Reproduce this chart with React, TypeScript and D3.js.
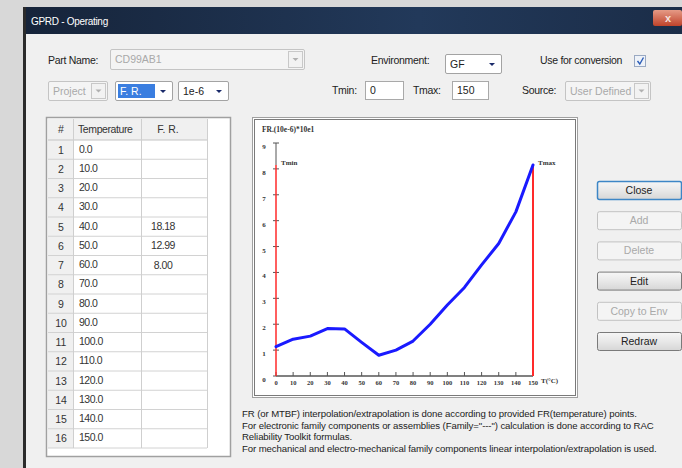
import React from "react";
import * as d3 from "d3";

// temperature grid (°C) and F.R. curve (units of 10e-6 * 10e1)
const temps = [0, 10, 20, 30, 40, 50, 60, 70, 80, 90, 100, 110, 120, 130, 140, 150];
const frCurve = [1.13, 1.42, 1.54, 1.83, 1.818, 1.299, 0.8, 1.0, 1.35, 2.0, 2.74, 3.42, 4.29, 5.12, 6.34, 8.15];
const tableFR = ["", "", "", "", "18.18", "12.99", "8.00", "", "", "", "", "", "", "", "", ""];
const yTicks = [0, 1, 2, 3, 4, 5, 6, 7, 8, 9];
const tMin = 0;
const tMax = 150;

const buttonLabels = ["Close", "Add", "Delete", "Edit", "Copy to Env", "Redraw"];
const buttonEnabled = [true, false, false, true, false, true];

const noteLines = [
  "FR (or MTBF) interpolation/extrapolation is done according to provided FR(temperature) points.",
  'For electronic family components or assemblies (Family="---")  calculation is done according to RAC',
  "Reliability Toolkit formulas.",
  "For mechanical and electro-mechanical family components linear interpolation/extrapolation is used.",
];

const UI = "'Liberation Sans', Arial, sans-serif";
const SERIF = "'Liberation Serif', 'DejaVu Serif', serif";

const Arrow: React.FC<{ x: number; y: number; color?: string }> = ({ x, y, color = "#1a2a6a" }) => (
  <path d={`M${x - 3},${y - 1.5} L${x + 3},${y - 1.5} L${x},${y + 1.5} Z`} fill={color} />
);

interface ComboProps {
  x: number;
  y: number;
  w: number;
  h: number;
  text: string;
  disabled?: boolean;
  boxed?: boolean;
  highlight?: number;
}

const Combo: React.FC<ComboProps> = ({ x, y, w, h, text, disabled, boxed, highlight }) => (
  <g>
    <rect x={x + 0.5} y={y + 0.5} width={w} height={h} fill={disabled ? "#f4f4f4" : "#fff"} stroke={disabled ? "#c4c4c4" : "#a3a3a3"} rx={1.5} />
    {highlight ? <rect x={x + 3} y={y + 3} width={highlight} height={h - 5} fill="#3a7ee0" /> : null}
    <text x={x + 5} y={y + h / 2 + 4} fontFamily={UI} fontSize={10.5} fill={highlight ? "#fff" : disabled ? "#a9a9a9" : "#222"}>
      {text}
    </text>
    {boxed ? (
      <g>
        <rect x={x + w - 15.5} y={y + 2.5} width={14} height={h - 4} fill="#f2f2f2" stroke="#c8c8c8" />
        <Arrow x={x + w - 8.5} y={y + h / 2 + 0.5} color="#b0b0b0" />
      </g>
    ) : (
      <Arrow x={x + w - 9} y={y + h / 2 + 1} />
    )}
  </g>
);

const TextBox: React.FC<{ x: number; y: number; w: number; h: number; text: string }> = ({ x, y, w, h, text }) => (
  <g>
    <rect x={x + 0.5} y={y + 0.5} width={w} height={h} fill="#fff" stroke="#a9a9a9" />
    <text x={x + 5} y={y + h / 2 + 4} fontFamily={UI} fontSize={10.5} fill="#222">
      {text}
    </text>
  </g>
);

const Label: React.FC<{ x: number; y: number; text: string }> = ({ x, y, text }) => (
  <text x={x} y={y} fontFamily={UI} fontSize={10.5} fill="#222" letterSpacing={-0.3}>
    {text}
  </text>
);

const Chart: React.FC = () => {
  const x = d3.scaleLinear().domain([0, 150]).range([276, 533]);
  const y = d3.scaleLinear().domain([0, 9]).range([376, 143]);
  const maxVal = d3.max(frCurve) ?? 0;
  const line = d3
    .line<number>()
    .x((_, i) => x(temps[i]))
    .y((d) => y(d))
    .curve(d3.curveLinear);

  return (
    <g>
      {/* frame */}
      <rect x={252.5} y={117.5} width={325} height={280} fill="#fff" stroke="#a0a0a0" />
      <rect x={254.5} y={119.5} width={321} height={276} fill="none" stroke="#7a7a7a" />

      <text x={262} y={132} fontFamily={SERIF} fontSize={7.5} fontWeight="bold" fill="#333">
        FR.(10e-6)*10e1
      </text>

      {/* y axis */}
      <line x1={x(tMin)} x2={x(tMin)} y1={y(9)} y2={y(maxVal)} stroke="#555" strokeWidth={1} />
      {yTicks.map((t) => (
        <g key={t}>
          <line x1={x(tMin) - 3} x2={x(tMin) + 3} y1={y(t)} y2={y(t)} stroke="#555" />
          <text x={264} y={y(t) + 6} textAnchor="middle" fontFamily={SERIF} fontSize={7} fontWeight="bold" fill="#333">
            {t}
          </text>
        </g>
      ))}

      {/* x axis */}
      <line x1={x(0)} x2={x(150)} y1={y(0)} y2={y(0)} stroke="#808080" strokeWidth={2} />
      {temps.map((t) => (
        <g key={t}>
          <line x1={x(t)} x2={x(t)} y1={y(0) - 4} y2={y(0)} stroke="#555" />
          <text x={x(t)} y={y(0) + 9} textAnchor="middle" fontFamily={SERIF} fontSize={6.5} fontWeight="bold" fill="#333">
            {t}
          </text>
        </g>
      ))}
      <text x={541} y={383} fontFamily={SERIF} fontSize={7} fontWeight="bold" fill="#333">
        T(°C)
      </text>

      {/* Tmin / Tmax markers */}
      <line x1={x(tMin)} x2={x(tMin)} y1={y(0)} y2={y(maxVal)} stroke="#ff2a2a" strokeWidth={1.5} />
      <line x1={x(tMax)} x2={x(tMax)} y1={y(0)} y2={y(maxVal)} stroke="#ff2a2a" strokeWidth={2} />
      <text x={281} y={165} fontFamily={SERIF} fontSize={7} fontWeight="bold" fill="#333">
        Tmin
      </text>
      <text x={538} y={165} fontFamily={SERIF} fontSize={7} fontWeight="bold" fill="#333">
        Tmax
      </text>

      <path d={line(frCurve) ?? ""} fill="none" stroke="#1a1aff" strokeWidth={3} strokeLinejoin="round" strokeLinecap="round" />
    </g>
  );
};

const Table: React.FC = () => {
  const rowH = 19.25;
  const top = 140;
  return (
    <g>
      <rect x={46.5} y={117.5} width={184} height={339} fill="#fff" stroke="#a0a0a0" strokeWidth={1.5} />
      <rect x={48} y={119} width={159} height={21} fill="#f0f0f0" />
      <rect x={48} y={140} width={25} height={rowH * 16} fill="#f0f0f0" />
      {temps.map((t, i) => {
        const ry = top + i * rowH;
        return (
          <g key={t}>
            <line x1={48} x2={207} y1={ry + rowH} y2={ry + rowH} stroke="#d2d2d2" />
            <text x={61} y={ry + 13.5} textAnchor="middle" fontFamily={UI} fontSize={10.5} fill="#333">
              {i + 1}
            </text>
            <text x={79} y={ry + 12.5} fontFamily={UI} fontSize={10.5} fill="#333" letterSpacing={-0.5}>
              {t.toFixed(1)}
            </text>
            <text x={163} y={ry + 13} textAnchor="middle" fontFamily={UI} fontSize={10.5} fill="#333" letterSpacing={-0.5}>
              {tableFR[i]}
            </text>
          </g>
        );
      })}
      <line x1={48} x2={207} y1={140} y2={140} stroke="#c4c4c4" />
      {[73, 141, 207].map((cx) => (
        <line key={cx} x1={cx + 0.5} x2={cx + 0.5} y1={119} y2={top + rowH * 16} stroke="#cfcfcf" />
      ))}
      <text x={61} y={133} textAnchor="middle" fontFamily={UI} fontSize={10.5} fill="#333">
        #
      </text>
      <text x={78} y={133} fontFamily={UI} fontSize={10.5} fill="#333" letterSpacing={-0.4}>
        Temperature
      </text>
      <text x={168} y={133} textAnchor="middle" fontFamily={UI} fontSize={10.5} fill="#333">
        F. R.
      </text>
    </g>
  );
};

const App: React.FC = () => {
  return (
    <svg width={682} height={468} style={{ position: "absolute", left: 0, top: 0 }}>
      <defs>
        <linearGradient id="title" x1="0" x2="1" y1="0" y2="0">
          <stop offset="0" stopColor="#16243a" />
          <stop offset="0.6" stopColor="#22395a" />
          <stop offset="1" stopColor="#1b2d48" />
        </linearGradient>
        <linearGradient id="btn" x1="0" x2="0" y1="0" y2="1">
          <stop offset="0" stopColor="#f6f6f6" />
          <stop offset="0.5" stopColor="#e8e8e8" />
          <stop offset="1" stopColor="#d6d6d6" />
        </linearGradient>
        <linearGradient id="close" x1="0" x2="0" y1="0" y2="1">
          <stop offset="0" stopColor="#e59a86" />
          <stop offset="1" stopColor="#c0432a" />
        </linearGradient>
      </defs>

      <rect width={682} height={468} fill="#d8d8d8" />
      {/* window */}
      <rect x={24} y={7} width={658} height={461} fill="#f0f0f0" />
      <rect x={24} y={7} width={658} height={27} fill="url(#title)" />
      <rect x={23} y={7} width={3} height={461} fill="#2b2b2b" />
      <text x={31} y={25} fontFamily={UI} fontSize={10} fill="#fff" letterSpacing={-0.3}>
        GPRD - Operating
      </text>
      <rect x={653} y={10} width={29} height={16} rx={2} fill="url(#close)" />
      <text x={668} y={22} textAnchor="middle" fontFamily={UI} fontSize={11} fontWeight="bold" fill="#f4e0dc">
        x
      </text>

      {/* first row */}
      <Label x={48} y={64} text="Part Name:" />
      <Combo x={110} y={49} w={194} h={20} text="CD99AB1" disabled boxed />
      <Label x={371} y={64} text="Environment:" />
      <Combo x={445} y={54} w={56} h={19} text="GF" />
      <Label x={540} y={64} text="Use for conversion" />
      <rect x={634.5} y={55.5} width={11} height={11} fill="#eef2f8" stroke="#9aa9c2" />
      <path d="M637.5,61 L639.8,64 L643.5,57.5" fill="none" stroke="#2b5db8" strokeWidth={1.4} />

      {/* second row */}
      <Combo x={48} y={81} w={59} h={19} text="Project" disabled boxed />
      <Combo x={115} y={81} w={57} h={19} text="F. R." highlight={37} />
      <Combo x={178} y={81} w={50} h={19} text="1e-6" />
      <Label x={332} y={94} text="Tmin:" />
      <TextBox x={365} y={81} w={38} h={18} text="0" />
      <Label x={413} y={94} text="Tmax:" />
      <TextBox x={452} y={81} w={36} h={18} text="150" />
      <Label x={522} y={94} text="Source:" />
      <Combo x={565} y={81} w={85} h={19} text="User Defined" disabled boxed />

      <Table />
      <Chart />

      {noteLines.map((l, i) => (
        <text key={i} x={242} y={417 + i * 11.5} fontFamily={UI} fontSize={9.6} fill="#222" letterSpacing={-0.1}>
          {l}
        </text>
      ))}

      {buttonLabels.map((b, i) => {
        const by = 181 + i * 30.2;
        const on = buttonEnabled[i];
        return (
          <g key={b}>
            <rect
              x={597.5}
              y={by + 0.5}
              width={84}
              height={18}
              rx={2}
              fill={on ? "url(#btn)" : "#f4f4f4"}
              stroke={i === 0 ? "#3d86c6" : on ? "#7a7a7a" : "#c2c2c2"}
              strokeWidth={i === 0 ? 1.5 : 1}
            />
            <text x={639} y={by + 13} textAnchor="middle" fontFamily={UI} fontSize={10.5} fill={on ? "#222" : "#a9a9a9"}>
              {b}
            </text>
          </g>
        );
      })}
    </svg>
  );
};

export default App;
